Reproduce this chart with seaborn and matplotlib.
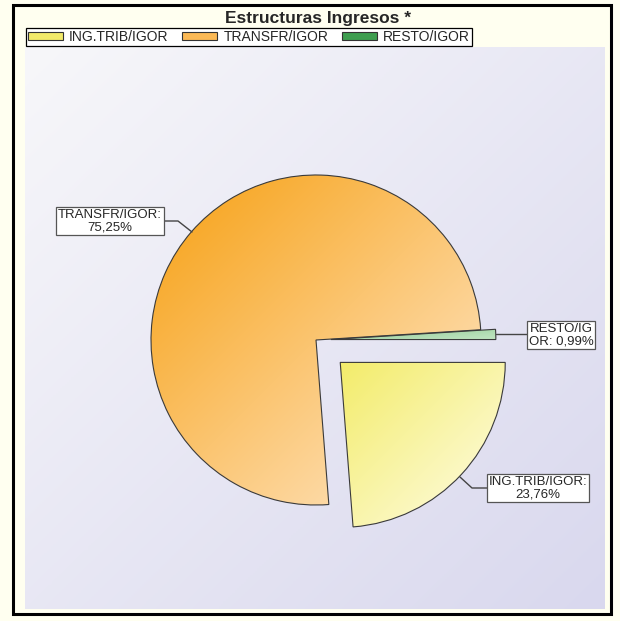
import numpy as np
import matplotlib.pyplot as plt
from matplotlib.colors import LinearSegmentedColormap
from matplotlib.patches import Patch, Rectangle
import seaborn as sns

# data
categories = ["ING.TRIB/IGOR", "TRANSFR/IGOR", "RESTO/IGOR"]
shares = [23.76, 75.25, 0.99]
label_texts = ["ING.TRIB/IGOR:\n23,76%", "TRANSFR/IGOR:\n75,25%", "RESTO/IG\nOR: 0,99%"]
explode = [0.2, 0.0, 0.09]

# styles
grad_colors = [("#F3EC6A", "#FFFDE8"), ("#F7A012", "#FFEAD0"), ("#93CC96", "#C2E5C3")]
legend_colors = ["#F2EA6A", "#FBB955", "#3E9E50"]

sns.set_style("white")
plt.rcParams["font.family"] = ["Liberation Sans", "DejaVu Sans"]

W, H = 620, 621
fig = plt.figure(figsize=(W / 100, H / 100), dpi=100, facecolor="#FFFFF0")
ax = fig.add_axes([0, 0, 1, 1])


def Y(y):
    # image row -> axes data y
    return H - y


xx, yy = np.meshgrid(np.linspace(0, 1, 256), np.linspace(0, 1, 256))
ramp = (xx + yy) / 2

# plot area background
bg = LinearSegmentedColormap.from_list("bg", ["#F7F7FA", "#D9D8EE"])
ax.imshow(ramp, cmap=bg, extent=(25, 605, Y(609), Y(47)), origin="upper",
          interpolation="bilinear", zorder=0)

# pie
radius = 165
wedges, _ = ax.pie(shares, explode=[e * radius for e in explode], startangle=0,
                   counterclock=False, center=(316, Y(340)), radius=radius,
                   wedgeprops=dict(edgecolor="#3a3a3a", linewidth=0.8))

for w, (c0, c1) in zip(wedges, grad_colors):
    b = w.get_path().get_extents()
    cmap = LinearSegmentedColormap.from_list("g", [c0, c1])
    im = ax.imshow(ramp, cmap=cmap, extent=(b.x0, b.x1, b.y0, b.y1), origin="upper",
                   interpolation="bilinear", zorder=1)
    im.set_clip_path(w)
    w.set_facecolor("none")
    w.set_zorder(2)

# labels with leader lines
box = dict(boxstyle="square,pad=0.15", fc="white", ec="#555555", lw=0.9)
ax.plot([460, 472, 488], [Y(477), Y(488), Y(488)], color="#444444", lw=1, zorder=3)
ax.text(538, Y(488), label_texts[0], ha="center", va="center", fontsize=9.5,
        linespacing=1.1, bbox=box, zorder=4)
ax.plot([192, 178, 163], [Y(232), Y(221), Y(221)], color="#444444", lw=1, zorder=3)
ax.text(110, Y(221), label_texts[1], ha="center", va="center", fontsize=9.5,
        linespacing=1.1, bbox=box, zorder=4)
ax.plot([496, 528], [Y(334), Y(334)], color="#444444", lw=1, zorder=3)
ax.text(561, Y(335), label_texts[2], ha="center", va="center", fontsize=9.5,
        linespacing=1.1, bbox=box, zorder=4)

# title and legend
ax.text(318, Y(18), "Estructuras Ingresos *", ha="center", va="center",
        fontsize=12.5, fontweight="bold")
handles = [Patch(facecolor=c, edgecolor="#333333", lw=0.8) for c in legend_colors]
leg = ax.legend(handles, categories, ncol=3, loc="upper left",
                bbox_to_anchor=(26, Y(28)), bbox_transform=ax.transData,
                frameon=True, fancybox=False, edgecolor="black", fontsize=10,
                handlelength=2.5, handleheight=0.5, handletextpad=0.45,
                columnspacing=1.0, borderpad=0.15, borderaxespad=0)
leg.get_frame().set_linewidth(0.9)
leg.get_frame().set_alpha(1)

# outer frame
ax.add_patch(Rectangle((13, Y(614)), 598, 609, fill=False, ec="black", lw=2.2, zorder=5))

ax.set_xlim(0, W)
ax.set_ylim(0, H)
ax.set_aspect("auto")
ax.set_axis_off()

fig.savefig("out.png", dpi=100, facecolor=fig.get_facecolor())
